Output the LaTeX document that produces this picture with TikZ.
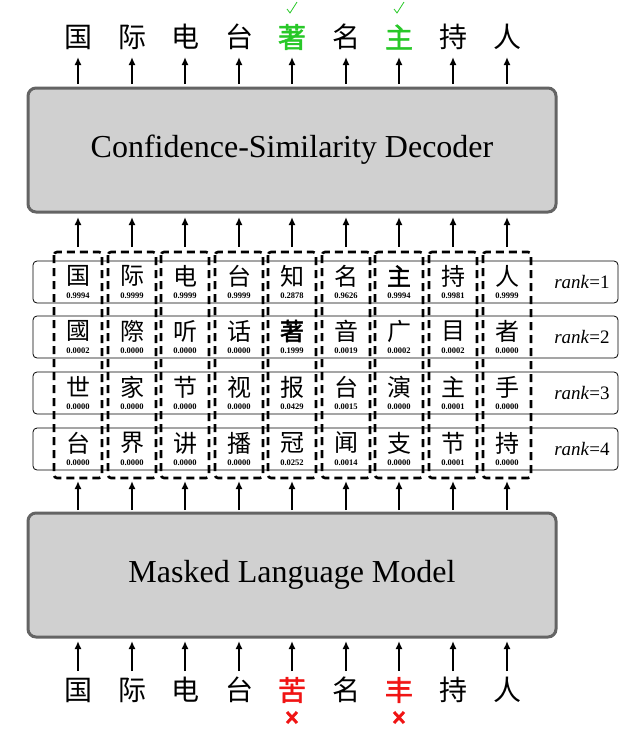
\documentclass[tikz,border=0pt]{standalone}
\usepackage{fontspec}
\setmainfont{Liberation Serif}
\newfontfamily\cjk{Noto Sans CJK SC}
\newfontfamily\cjkb{Noto Sans CJK SC}[FakeBold=2]
\usetikzlibrary{arrows.meta}
\definecolor{boxgray}{RGB}{208,208,208}
\definecolor{edgegray}{RGB}{100,100,100}
\definecolor{okgreen}{RGB}{40,200,40}
\definecolor{badred}{RGB}{240,20,20}
\tikzset{
  bigbox/.style={draw=edgegray,line width=3pt,fill=boxgray,rounded corners=8pt,minimum width=528pt,minimum height=124pt,font=\fontsize{32}{34}\selectfont},
  arr/.style={-{Latex[length=8pt,width=7pt]},line width=1.8pt},
  tok/.style={font=\cjk\fontsize{28}{28}\selectfont,inner sep=0pt},
  cand/.style={font=\cjk\fontsize{24}{24}\selectfont,inner sep=0pt},
  prob/.style={font=\bfseries\fontsize{8.5}{8.5}\selectfont,inner sep=0pt},
  rowbox/.style={draw,line width=0.8pt,rounded corners=4pt},
  colbox/.style={draw,line width=2.6pt,dash pattern=on 8pt off 5pt,rounded corners=3pt},
}
\begin{document}
\begin{tikzpicture}[x=1pt,y=-1pt]
\useasboundingbox (0,0) rectangle (630,737);
\def\xs{{78,132,185,239,292,346,399,453,507}}
% boxes
\node[bigbox] (dec) at (292,150) {Confidence-Similarity Decoder};
\node[bigbox] (mlm) at (292,575) {Masked Language Model};
% top tokens
\foreach \c [count=\i from 0] in {国,际,电,台,著,名,主,持,人}{
  \pgfmathsetmacro\x{\xs[\i]}
  \ifnum\i=4 \node[tok,font=\cjkb\fontsize{28}{28}\selectfont,text=okgreen] (t\i) at (\x,37) {\c};
  \else\ifnum\i=6 \node[tok,font=\cjkb\fontsize{28}{28}\selectfont,text=okgreen] (t\i) at (\x,37) {\c};
  \else \node[tok] (t\i) at (\x,37) {\c};\fi\fi
  \coordinate (ta\i) at (\x,84);
  \coordinate (tb\i) at (\x,57);
  \draw[arr] (ta\i) -- (tb\i);
  \coordinate (ma\i) at (\x,247);
  \coordinate (mb\i) at (\x,217);
  \draw[arr] (ma\i) -- (mb\i);
  \coordinate (la\i) at (\x,510);
  \coordinate (lb\i) at (\x,481);
  \draw[arr] (la\i) -- (lb\i);
}
% checkmarks
\foreach \x in {292,399}{
  \draw[okgreen,line width=0.8pt] (\x-5,9) -- (\x-2,13) -- (\x+5,2);
}
% rows
\foreach \r/\y in {1/282,2/337,3/393,4/449}{
  \draw[rowbox] (33,\y-21) rectangle (618,\y+21);
  \node[font=\fontsize{19}{19}\selectfont] at (582,\y) {\textit{rank}=\r};
}
\newcommand\putcol[6]{%
  \node[cand] (c#1a) at (#2,276) {#3};
  \node[cand] (c#1b) at (#2,331) {#4};
  \node[cand] (c#1c) at (#2,387) {#5};
  \node[cand] (c#1d) at (#2,443) {#6};
}
\newcommand\putprob[6]{%
  \node[prob] (p#1a) at (#2,296) {#3};
  \node[prob] (p#1b) at (#2,351) {#4};
  \node[prob] (p#1c) at (#2,407) {#5};
  \node[prob] (p#1d) at (#2,463) {#6};
  \draw[colbox] (#2-24,252) rectangle (#2+24,478);
}
\putcol{0}{78}{国}{國}{世}{台}
\putcol{1}{132}{际}{際}{家}{界}
\putcol{2}{185}{电}{听}{节}{讲}
\putcol{3}{239}{台}{话}{视}{播}
\putcol{4}{292}{知}{\cjkb 著}{报}{冠}
\putcol{5}{346}{名}{音}{台}{闻}
\putcol{6}{399}{\cjkb 主}{广}{演}{支}
\putcol{7}{453}{持}{目}{主}{节}
\putcol{8}{507}{人}{者}{手}{持}
\putprob{0}{78}{0.9994}{0.0002}{0.0000}{0.0000}
\putprob{1}{132}{0.9999}{0.0000}{0.0000}{0.0000}
\putprob{2}{185}{0.9999}{0.0000}{0.0000}{0.0000}
\putprob{3}{239}{0.9999}{0.0000}{0.0000}{0.0000}
\putprob{4}{292}{0.2878}{0.1999}{0.0429}{0.0252}
\putprob{5}{346}{0.9626}{0.0019}{0.0015}{0.0014}
\putprob{6}{399}{0.9994}{0.0002}{0.0000}{0.0000}
\putprob{7}{453}{0.9981}{0.0002}{0.0001}{0.0001}
\putprob{8}{507}{0.9999}{0.0000}{0.0000}{0.0000}
% bottom tokens
\foreach \c [count=\i from 0] in {国,际,电,台,苦,名,丰,持,人}{
  \pgfmathsetmacro\x{\xs[\i]}
  \ifnum\i=4 \node[tok,font=\cjkb\fontsize{28}{28}\selectfont,text=badred] (b\i) at (\x,690) {\c};
  \else\ifnum\i=6 \node[tok,font=\cjkb\fontsize{28}{28}\selectfont,text=badred] (b\i) at (\x,690) {\c};
  \else \node[tok] (b\i) at (\x,690) {\c};\fi\fi
  \coordinate (ba\i) at (\x,671);
  \coordinate (bb\i) at (\x,641);
  \draw[arr] (ba\i) -- (bb\i);
}
\foreach \x in {292,399}{
  \draw[badred,line width=3pt] (\x-5,712) -- (\x+5,723) (\x-5,723) -- (\x+5,712);
}
\end{tikzpicture}
\end{document}
